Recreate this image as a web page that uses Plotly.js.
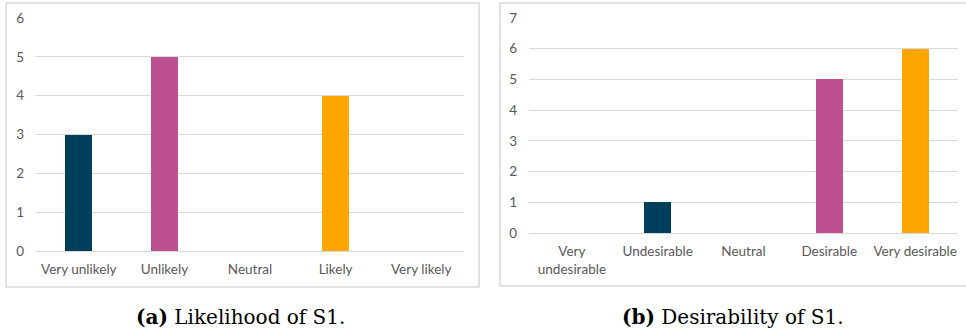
<!DOCTYPE html>
<html>
<head>
<meta charset="utf-8">
<script src="https://cdn.plot.ly/plotly-3.0.1.min.js"></script>
<style>
  html, body { margin: 0; padding: 0; background: #ffffff; }
  #chart { width: 966px; height: 331px; }
</style>
</head>
<body>
<div id="chart"></div>
<script>
// Survey responses for scenario S1
const likelihoodCategories = ["Very unlikely", "Unlikely", "Neutral", "Likely", "Very likely"];
const likelihoodCounts = [3, 5, 0, 4, 0];

const desirabilityCategories = ["Very<br>undesirable", "Undesirable", "Neutral", "Desirable", "Very desirable"];
const desirabilityCounts = [0, 1, 0, 5, 6];

const likelihoodTicks = [0, 1, 2, 3, 4, 5, 6];
const desirabilityTicks = [0, 1, 2, 3, 4, 5, 6, 7];

const captionA = "<b>(a)</b> Likelihood of S1.";
const captionB = "<b>(b)</b> Desirability of S1.";

const likelihoodColors = ["#003f5c", "#bc5090", "#cccccc", "#ffa600", "#cccccc"];
const desirabilityColors = ["#cccccc", "#003f5c", "#cccccc", "#bc5090", "#ffa600"];

const W = 966, H = 331;
const px = x => x / W;
const py = y => 1 - y / H;

const tickFont = { family: "Lato, 'Open Sans', sans-serif", size: 13.5, color: "#595959" };
const captionFont = { family: "'DejaVu Serif', 'Liberation Serif', serif", size: 20, color: "#000000" };
const gridColor = "#d9d9d9";

const traces = [
  {
    type: "bar",
    x: likelihoodCategories,
    y: likelihoodCounts,
    marker: { color: likelihoodColors },
    width: 0.315,
    xaxis: "x", yaxis: "y",
    hoverinfo: "x+y"
  },
  {
    type: "bar",
    x: desirabilityCategories,
    y: desirabilityCounts,
    marker: { color: desirabilityColors },
    width: 0.315,
    xaxis: "x2", yaxis: "y2",
    hoverinfo: "x+y"
  }
];

function yAxis(ticks, domain) {
  return {
    domain: domain,
    range: [0, ticks[ticks.length - 1]],
    tickvals: ticks,
    showgrid: true,
    gridcolor: gridColor,
    gridwidth: 1,
    zeroline: false,
    showline: false,
    ticks: "",
    ticklabelstandoff: 11,
    tickfont: tickFont,
    fixedrange: true
  };
}

function xAxis(domain, anchor) {
  return {
    domain: domain,
    anchor: anchor,
    type: "category",
    range: [-0.5, 4.5],
    showgrid: false,
    zeroline: false,
    showline: true,
    linecolor: gridColor,
    linewidth: 1,
    ticks: "",
    ticklabelstandoff: 6,
    tickfont: tickFont,
    tickangle: 0,
    fixedrange: true
  };
}

const layout = {
  width: W,
  height: H,
  margin: { l: 0, r: 0, t: 0, b: 0 },
  paper_bgcolor: "#ffffff",
  plot_bgcolor: "rgba(0,0,0,0)",
  showlegend: false,
  bargap: 0,
  xaxis: xAxis([px(36), px(464)], "y"),
  yaxis: yAxis(likelihoodTicks, [py(251), py(18)]),
  xaxis2: xAxis([px(529), px(958)], "y2"),
  yaxis2: Object.assign(yAxis(desirabilityTicks, [py(233), py(18)]), { anchor: "x2" }),
  shapes: [
    {
      type: "rect", xref: "paper", yref: "paper",
      x0: px(6), x1: px(479), y0: py(287), y1: py(3),
      line: { color: "#d9d9d9", width: 1.5 }, fillcolor: "rgba(0,0,0,0)", layer: "below"
    },
    {
      type: "rect", xref: "paper", yref: "paper",
      x0: px(500), x1: px(972), y0: py(286), y1: py(3),
      line: { color: "#d9d9d9", width: 1.5 }, fillcolor: "rgba(0,0,0,0)", layer: "below"
    }
  ],
  annotations: [
    {
      text: captionA, xref: "paper", yref: "paper",
      x: px(240), y: py(317), xanchor: "center", yanchor: "middle",
      showarrow: false, font: captionFont
    },
    {
      text: captionB, xref: "paper", yref: "paper",
      x: px(733), y: py(317), xanchor: "center", yanchor: "middle",
      showarrow: false, font: captionFont
    }
  ]
};

Plotly.newPlot("chart", traces, layout, { displayModeBar: false, staticPlot: true });
</script>
</body>
</html>
